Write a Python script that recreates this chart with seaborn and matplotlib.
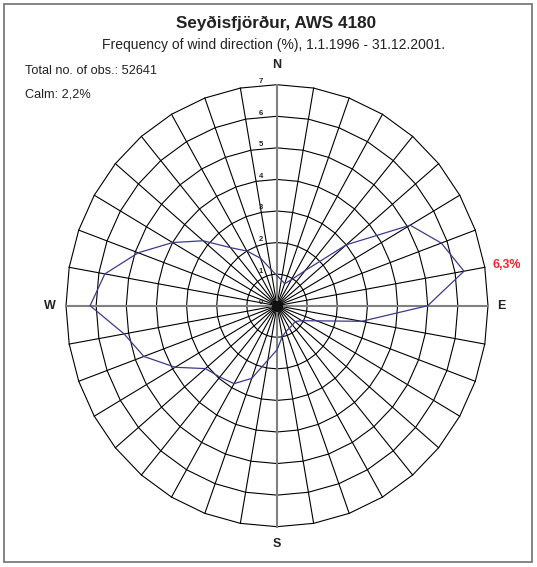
import numpy as np
import pandas as pd
import matplotlib
matplotlib.use("Agg")
import matplotlib.pyplot as plt
from matplotlib.patches import Rectangle
import seaborn as sns

# --- data: frequency of wind direction (%) per 10 degree sector ---
directions = [0, 10, 20, 30, 40, 50, 60, 70, 80, 90, 100, 110,
              120, 130, 140, 150, 160, 170, 180, 190, 200, 210, 220, 230,
              240, 250, 260, 270, 280, 290, 300, 310, 320, 330, 340, 350]
frequency = [0.95, 0.83, 0.74, 0.95, 1.45, 3.0, 5.1, 5.8, 6.3, 5.0, 2.85, 1.4,
             0.95, 0.78, 0.8, 0.82, 0.87, 1.0, 1.4, 1.75, 2.45, 2.85, 2.95, 3.1,
             3.9, 4.7, 5.15, 6.2, 5.8, 4.9, 4.0, 3.2, 2.4, 2.0, 1.6, 1.17]
ring_values = [1, 2, 3, 4, 5, 6, 7]
cardinal_labels = ["N", "E", "S", "W"]

title = "Seyðisfjörður, AWS 4180"
subtitle = "Frequency of wind direction (%), 1.1.1996 - 31.12.2001."
total_obs = "Total no. of obs.: 52641"
calm_text = "Calm: 2,2%"

plt.rcParams["font.family"] = ["Liberation Sans", "DejaVu Sans"]

W, H = 537, 567
fig = plt.figure(figsize=(W / 100, H / 100), dpi=100)

# polar axes, stretched a bit vertically like the original
cx, cy, rx, ry = 277.0, 305.7, 211.0, 221.0
ax = fig.add_axes([(cx - rx) / W, (H - cy - ry) / H, 2 * rx / W, 2 * ry / H],
                  projection="polar")
ax.set_aspect("auto")
ax.set_theta_zero_location("N")
ax.set_theta_direction(-1)
ax.grid(False)
ax.set_xticks([])
ax.set_yticks([])
ax.spines["polar"].set_visible(False)
ax.patch.set_facecolor("none")

rmax = ring_values[-1]
theta = np.deg2rad(directions)
theta_closed = np.append(theta, theta[0] + 2 * np.pi)

# rings as 36-sided polygons
for r in ring_values:
    ax.plot(theta_closed, [r] * len(theta_closed), color="black", lw=0.8,
            clip_on=False, zorder=1)
# spokes
for d, t in zip(directions, theta):
    if d % 90 == 0:
        ax.plot([t, t], [0, rmax], color="#808080", lw=1.5, clip_on=False, zorder=2)
    else:
        ax.plot([t, t], [0, rmax], color="black", lw=0.8, clip_on=False, zorder=1)
ax.plot([0], [0], "o", color="#111111", ms=7, zorder=2)

# ring labels
for r in [0] + ring_values:
    ax.annotate(str(r), xy=(0, r), xytext=(-16, 3), textcoords="offset pixels",
                ha="center", va="center", fontsize=5.5, fontweight="bold",
                color="#222222", zorder=4)

# frequency line
df = pd.DataFrame({"theta": theta_closed,
                   "freq": frequency + [frequency[0]]})
sns.lineplot(data=df, x="theta", y="freq", ax=ax, sort=False, estimator=None,
             color="#3b3b8c", linewidth=0.9, zorder=3)
ax.set_xlabel("")
ax.set_ylabel("")
ax.set_ylim(0, rmax)
ax.set_xticks([])
ax.set_yticks([])

# label of the largest value
imax = int(np.argmax(frequency))
ax.annotate(f"{frequency[imax]:.1f}%".replace(".", ","), xy=(theta[imax], rmax),
            xytext=(22, 2), textcoords="offset pixels", ha="center", va="center",
            fontsize=8.9, fontweight="bold", color="#e8262b", annotation_clip=False)

# texts in pixel positions
def ftext(x, y, s, **kw):
    fig.text(x / W, 1 - y / H, s, **kw)

ftext(276, 23.3, title, ha="center", va="center", fontsize=12.3, fontweight="bold",
      color="#222222")
ftext(273, 45.2, subtitle, ha="center", va="center", fontsize=10, color="#222222")
ftext(24.7, 71.2, total_obs, ha="left", va="center", fontsize=9.2, color="#222222")
ftext(24.7, 94.9, calm_text, ha="left", va="center", fontsize=9.2, color="#222222")

card_pos = {"N": (276.7, 65), "E": (501.7, 306), "S": (276.7, 544.3), "W": (50, 305.7)}
for lab in cardinal_labels:
    x, y = card_pos[lab]
    ftext(x, y, lab, ha="center", va="center", fontsize=9, fontweight="bold",
          color="#222222")

# frame round the chart
fig.add_artist(Rectangle((4 / W, 1 - 562 / H), 528 / W, 558 / H,
                         transform=fig.transFigure, fill=False,
                         edgecolor="#707070", lw=1.2))

fig.savefig("out.png", dpi=100)
